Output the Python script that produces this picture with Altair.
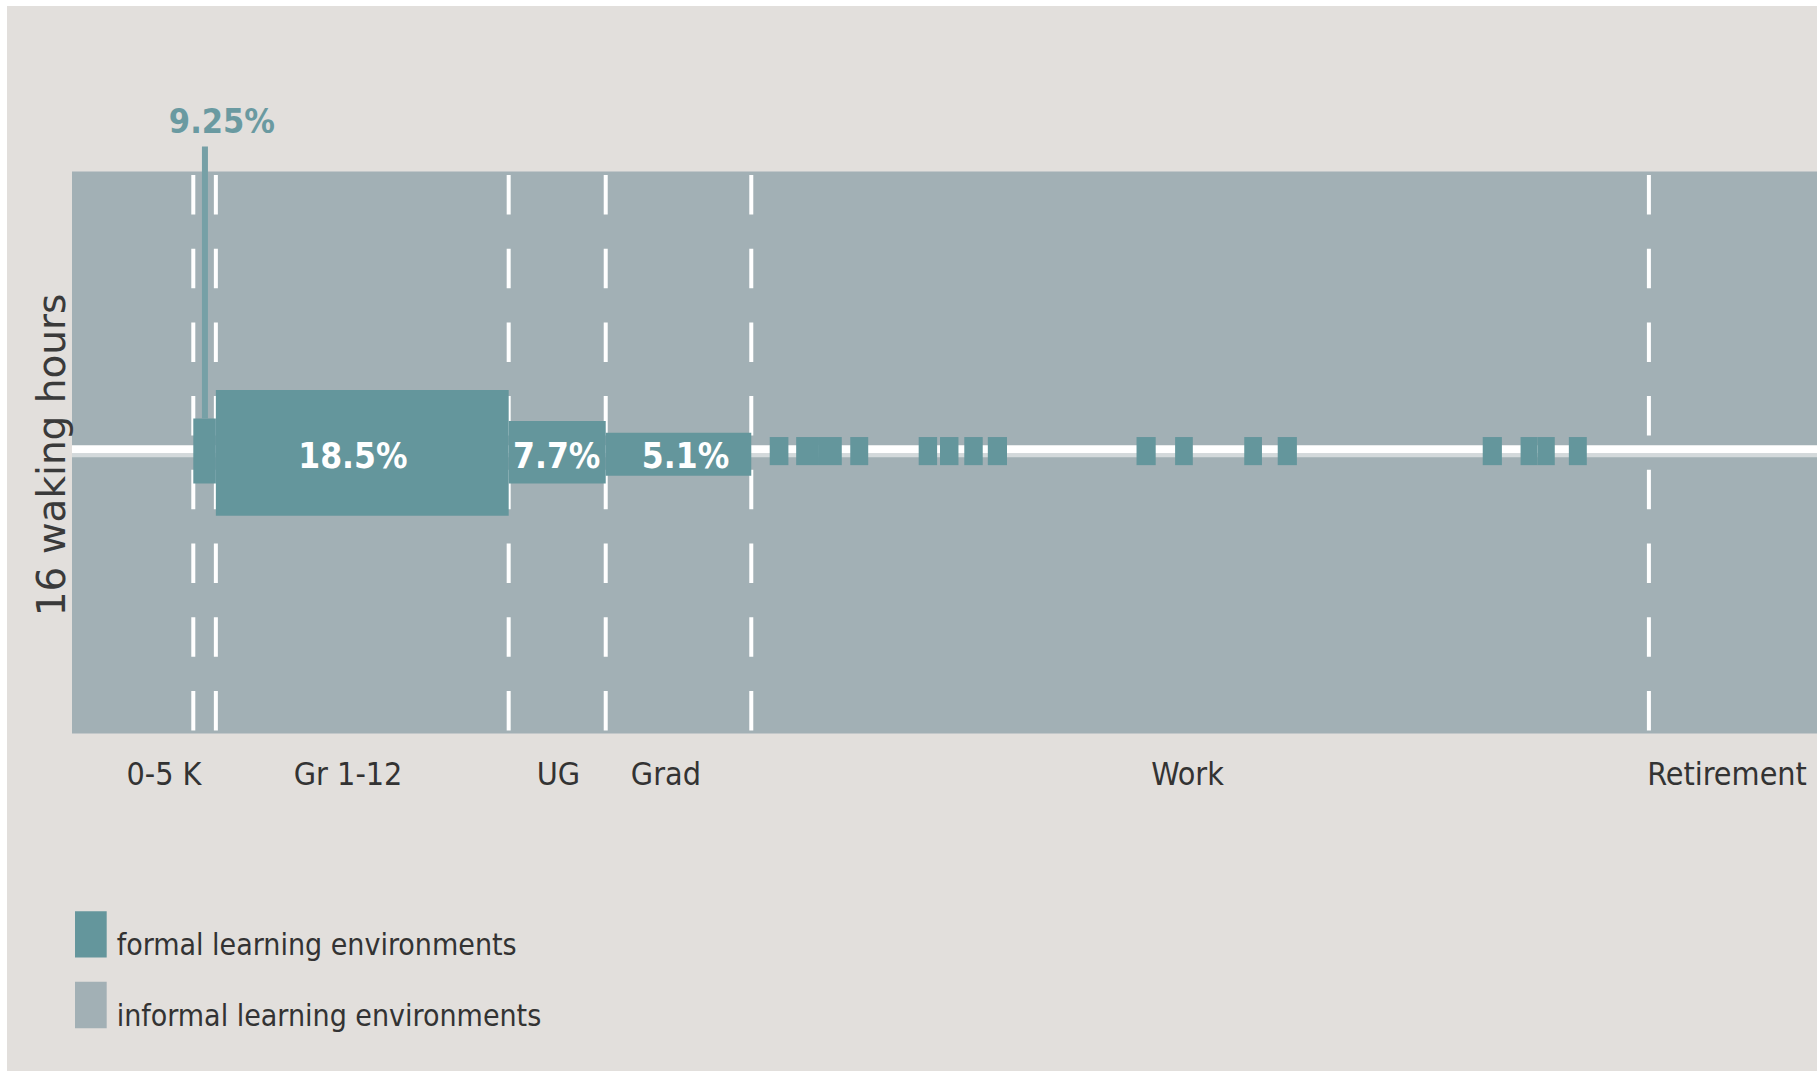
import altair as alt
import pandas as pd

# ---------------- data (x = age in years, y = waking hours 0..16) ----------------
stage_boundaries = [5.0, 5.93, 18.0, 22.0, 28.0, 65.0]
dash_top = [15.90, 15.90, 15.90, 15.90, 15.90, 15.90]
dash_bottom = [0.07, 0.07, 0.07, 0.07, 0.07, 0.07]

formal_stage = ["0-5 K", "Gr 1-12", "UG", "Grad"]
formal_start = [5.0, 5.93, 18.0, 22.0]
formal_end = [5.93, 18.0, 22.0, 28.0]
formal_low = [7.12, 6.20, 7.12, 7.34]
formal_high = [8.97, 9.78, 8.90, 8.56]

bar_label_text = ["18.5%", "7.7%", "5.1%"]
bar_label_x = [11.58, 19.98, 25.29]
bar_label_y = [7.56, 7.56, 7.56]

callout_text = ["9.25%"]
callout_x = [6.18]
callout_y = [17.10]
leader_x = [5.48]
leader_low = [8.97]
leader_high = [16.71]

work_start = [28.76, 29.85, 30.79, 32.08, 34.90, 35.78, 36.78, 37.75,
              43.88, 45.47, 48.32, 49.70, 58.15, 59.71, 60.41, 61.70]
work_end = [29.53, 30.79, 31.73, 32.82, 35.66, 36.54, 37.54, 38.54,
            44.67, 46.20, 49.05, 50.49, 58.94, 60.41, 61.12, 62.44]
work_low = [7.64, 7.64, 7.64, 7.64, 7.64, 7.64, 7.64, 7.64,
            7.64, 7.64, 7.64, 7.64, 7.64, 7.64, 7.64, 7.64]
work_high = [8.44, 8.44, 8.44, 8.44, 8.44, 8.44, 8.44, 8.44,
             8.44, 8.44, 8.44, 8.44, 8.44, 8.44, 8.44, 8.44]

stage_labels = ["0-5 K", "Gr 1-12", "UG", "Grad", "Work", "Retirement"]
stage_label_x = [3.79, 11.38, 20.05, 24.48, 45.98, 68.22]
stage_label_y = [-1.47, -1.47, -1.47, -1.47, -1.47, -1.47]

legend_labels = ["formal learning environments", "informal learning environments"]
legend_colors = ["#64969c", "#a2b0b5"]
legend_box_x = [0.124, 0.124]
legend_box_x2 = [1.43, 1.43]
legend_box_top = [-5.06, -7.07]
legend_box_bottom = [-6.38, -8.39]
legend_text_x = [1.84, 1.84]
legend_text_y = [-6.32, -8.32]

day_start, day_end = [0.0], [16.0]
life_start, life_end = [0.0], [71.93]
midline_low, midline_high = [7.977], [8.205]
shadow_low, shadow_high = [7.868], [7.977]

axis_title = ["16 waking hours"]
axis_title_x = [-0.78]
axis_title_y = [7.93]

# ---------------- styling ----------------
TEAL = "#64969c"
GREY = "#a2b0b5"
BEIGE = "#e2dfdc"
TEXT = "#333333"
NARROW = "DejaVu Sans Condensed, Liberation Sans Narrow, sans-serif"

XS = alt.Scale(domain=[-2.6793, 71.929], nice=False, zero=False)
YS = alt.Scale(domain=[-9.609, 20.712], nice=False, zero=False)


def X(f):
    return alt.X(f, type="quantitative", scale=XS, axis=None)


def Y(f):
    return alt.Y(f, type="quantitative", scale=YS, axis=None)


informal = alt.Chart(pd.DataFrame({"x": life_start, "x2": life_end, "y": day_start, "y2": day_end})).mark_rect(
    color=GREY).encode(x=X("x"), x2="x2", y=Y("y"), y2="y2")

dashes = alt.Chart(pd.DataFrame({"x": stage_boundaries, "y": dash_top, "y2": dash_bottom})).mark_rule(
    color="white", strokeWidth=4, strokeDash=[39.5, 34.2]).encode(x=X("x"), y=Y("y"), y2="y2")

shadow = alt.Chart(pd.DataFrame({"x": life_start, "x2": life_end, "y": shadow_low, "y2": shadow_high})).mark_rect(
    color="#d3d9db").encode(x=X("x"), x2="x2", y=Y("y"), y2="y2")

midline = alt.Chart(pd.DataFrame({"x": life_start, "x2": life_end, "y": midline_low, "y2": midline_high})).mark_rect(
    color="white").encode(x=X("x"), x2="x2", y=Y("y"), y2="y2")

formal = alt.Chart(pd.DataFrame({"stage": formal_stage, "x": formal_start, "x2": formal_end,
                                 "y": formal_low, "y2": formal_high})).mark_rect(color=TEAL).encode(
    x=X("x"), x2="x2", y=Y("y"), y2="y2")

work = alt.Chart(pd.DataFrame({"x": work_start, "x2": work_end, "y": work_low, "y2": work_high})).mark_rect(
    color=TEAL).encode(x=X("x"), x2="x2", y=Y("y"), y2="y2")

leader = alt.Chart(pd.DataFrame({"x": leader_x, "y": leader_low, "y2": leader_high})).mark_rule(
    color="#76a0a6", strokeWidth=6).encode(x=X("x"), y=Y("y"), y2="y2")

callout = alt.Chart(pd.DataFrame({"t": callout_text, "x": callout_x, "y": callout_y})).mark_text(
    font=NARROW, fontSize=34, fontWeight="bold", color="#6a9aa1", align="center", baseline="alphabetic").encode(
    x=X("x"), y=Y("y"), text="t")

bar_labels = alt.Chart(pd.DataFrame({"t": bar_label_text, "x": bar_label_x, "y": bar_label_y})).mark_text(
    font=NARROW, fontSize=35, fontWeight="bold", color="white", align="center", baseline="alphabetic").encode(
    x=X("x"), y=Y("y"), text="t")

stage_text = alt.Chart(pd.DataFrame({"t": stage_labels, "x": stage_label_x, "y": stage_label_y})).mark_text(
    font=NARROW, fontSize=32, color=TEXT, align="center", baseline="alphabetic").encode(
    x=X("x"), y=Y("y"), text="t")

legend_boxes = alt.Chart(pd.DataFrame({"label": legend_labels, "c": legend_colors, "x": legend_box_x,
                                       "x2": legend_box_x2, "y": legend_box_bottom, "y2": legend_box_top})).mark_rect().encode(
    x=X("x"), x2="x2", y=Y("y"), y2="y2", color=alt.Color("c:N", scale=None))

legend_text = alt.Chart(pd.DataFrame({"t": legend_labels, "x": legend_text_x, "y": legend_text_y})).mark_text(
    font=NARROW, fontSize=30, color=TEXT, align="left", baseline="alphabetic").encode(
    x=X("x"), y=Y("y"), text="t")

title_text = alt.Chart(pd.DataFrame({"t": axis_title, "x": axis_title_x, "y": axis_title_y})).mark_text(
    font="DejaVu Sans", fontSize=39, color="#3a3a3a", angle=270, align="center", baseline="middle"
).encode(x=X("x"), y=Y("y"), text="t")

chart = alt.layer(
    informal, dashes, shadow, midline, formal, work, leader,
    callout, bar_labels, stage_text, legend_boxes, legend_text, title_text
).properties(
    width=1810, height=1065,
    autosize=alt.AutoSizeParams(type="none"),
    padding={"left": 7, "top": 6, "right": 0, "bottom": 2},
    background="white",
).configure_view(stroke=None, fill=BEIGE)

chart.save("out.html", embed_options={"renderer": "svg", "actions": False})
